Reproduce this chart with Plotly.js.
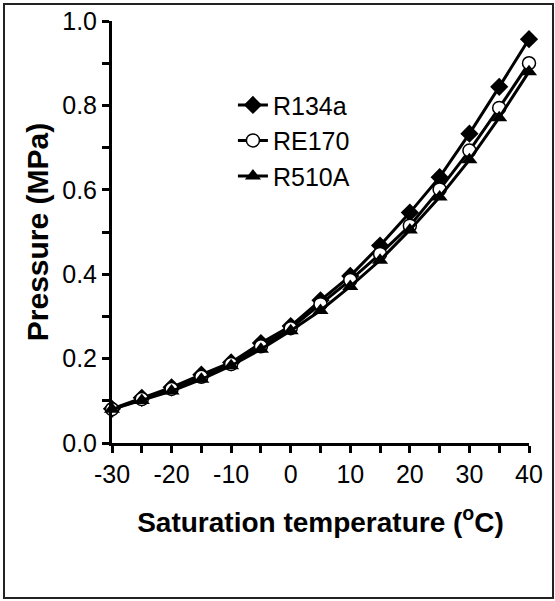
<!DOCTYPE html>
<html><head><meta charset="utf-8">
<script src="https://cdn.plot.ly/plotly-3.0.1.min.js"></script>
<style>
body{margin:0;padding:0;background:#fff;}
#wrap{position:relative;width:555px;height:601px;}
#chart{width:555px;height:601px;}
#frame{position:absolute;left:3px;top:3px;width:547px;height:592px;border:2px solid #222;pointer-events:none;}
</style></head>
<body>
<div id="wrap"><div id="chart"></div><div id="frame"></div></div>
<script>
const temps = [-30,-25,-20,-15,-10,-5,0,5,10,15,20,25,30,35,40];
const r134a = [0.081,0.107,0.132,0.162,0.191,0.237,0.277,0.338,0.396,0.468,0.546,0.630,0.733,0.844,0.957];
const re170 = [0.080,0.104,0.128,0.157,0.187,0.229,0.272,0.329,0.386,0.448,0.515,0.601,0.693,0.794,0.900];
const r510a = [0.080,0.101,0.123,0.151,0.183,0.222,0.266,0.314,0.371,0.433,0.505,0.583,0.671,0.771,0.880];
const names = ['R134a','RE170','R510A'];
const xTickVals = [-30,-20,-10,0,10,20,30,40];
const xTickText = ['-30','-20','-10','0','10','20','30','40'];
const yTickVals = [0,0.2,0.4,0.6,0.8,1.0];
const yTickText = ['0.0','0.2','0.4','0.6','0.8','1.0'];

const font = 'Liberation Sans, Arial, sans-serif';
const traces = [
  {x:temps,y:r134a,name:names[0],legendgroup:'a',mode:'lines+markers',
   line:{color:'#000',width:3},marker:{symbol:'diamond',size:14,color:'#000'},cliponaxis:false},
  {x:temps,y:re170,name:names[1],legendgroup:'b',mode:'lines+markers',
   line:{color:'#000',width:3},marker:{symbol:'circle',size:13,color:'#fff',line:{color:'#000',width:1.5}},cliponaxis:false},
  {x:temps,y:r510a,name:names[2],legendgroup:'c',mode:'lines+markers',
   line:{color:'#000',width:3},marker:{symbol:'triangle-up',size:14,color:'#000'},cliponaxis:false}
];
const layout = {
  width:555,height:601,
  margin:{l:112,r:26,t:21,b:158},
  paper_bgcolor:'#fff',plot_bgcolor:'#fff',
  font:{family:font,color:'#000',size:25},
  showlegend:true,
  legend:{x:0.29,y:0.855,xanchor:'left',yanchor:'top',bgcolor:'rgba(0,0,0,0)',
    font:{size:25,family:font},tracegroupgap:0},
  xaxis:{range:[-30,40],tickmode:'array',tickvals:xTickVals,ticktext:xTickText,
    showgrid:false,zeroline:false,
    showline:true,linecolor:'#000',linewidth:3,ticks:'outside',ticklen:7,tickwidth:3,tickcolor:'#000',
    minor:{tick0:-30,dtick:5,ticks:'outside',ticklen:7,tickwidth:3,tickcolor:'#000',showgrid:false},
    tickfont:{size:25,family:font},
    title:{text:'Saturation temperature (<sup>o</sup>C)',font:{size:28,family:font,weight:'bold'},standoff:26}},
  yaxis:{range:[0,1],tickmode:'array',tickvals:yTickVals,ticktext:yTickText,
    showgrid:false,zeroline:false,
    showline:true,linecolor:'#000',linewidth:3,ticks:'outside',ticklen:7,tickwidth:3,tickcolor:'#000',
    minor:{tick0:0,dtick:0.1,ticks:'outside',ticklen:7,tickwidth:3,tickcolor:'#000',showgrid:false},
    tickfont:{size:25,family:font},
    title:{text:'Pressure (MPa)',font:{size:30,family:font,weight:'bold'},standoff:5}}
};
Plotly.newPlot('chart',traces,layout,{displayModeBar:false,staticPlot:true});
</script>
</body></html>
